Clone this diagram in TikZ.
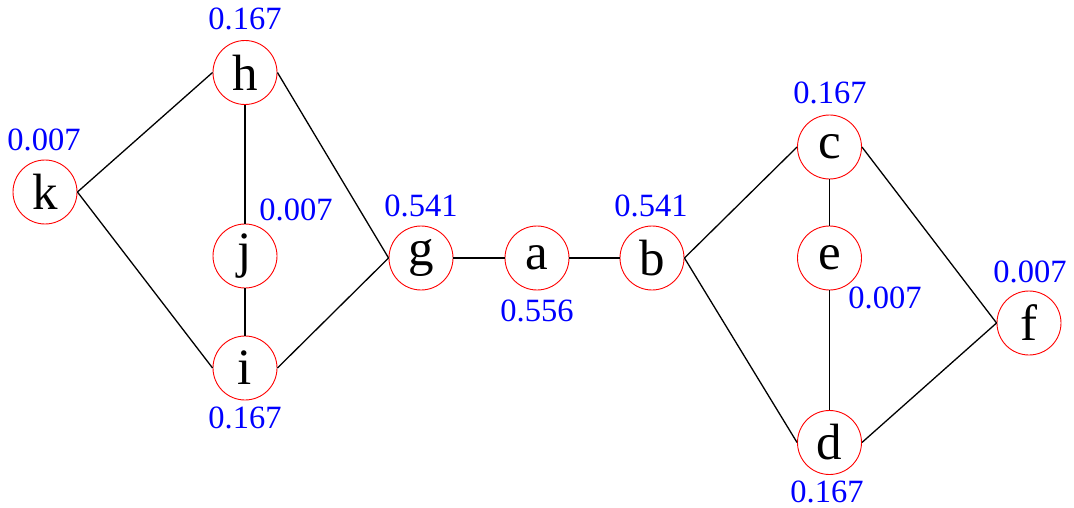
\documentclass[tikz,border=0pt]{standalone}
\usepackage{fontspec}
\setmainfont{Liberation Serif}
\begin{document}
\begin{tikzpicture}[x=1pt,y=-1pt,
  vert/.style={circle,draw=red,line width=0.9pt,minimum size=64pt,inner sep=0pt,font=\fontsize{51}{51}\selectfont},
  lbl/.style={text=blue,inner sep=0pt,font=\fontsize{32.5}{32.5}\selectfont},
  edge/.style={draw=black,line width=1.3pt}]
\useasboundingbox (0,0) rectangle (1074,508);
\node[vert] (h) at (245,72.5) {h};
\node[vert] (k) at (45,192) {k};
\node[vert] (j) at (245,256) {j};
\node[vert] (i) at (245,368) {i};
\node[vert] (g) at (421,258) {g};
\node[vert] (a) at (537,258) {a};
\node[vert] (b) at (652,258) {b};
\node[vert] (c) at (829.5,147) {c};
\node[vert] (e) at (829.5,258) {e};
\node[vert] (d) at (829.5,442.5) {d};
\node[vert] (f) at (1029,323) {f};
\node[lbl] (lh) at (245,19) {0.167};
\node[lbl] (lk) at (44,140) {0.007};
\node[lbl] (lj) at (296,210) {0.007};
\node[lbl] (li) at (245,418) {0.167};
\node[lbl] (lg) at (421,206) {0.541};
\node[lbl] (la) at (537,311) {0.556};
\node[lbl] (lb) at (651,206) {0.541};
\node[lbl] (lc) at (830,93) {0.167};
\node[lbl] (le) at (885,298) {0.007};
\node[lbl] (ld) at (827,492) {0.167};
\node[lbl] (lf) at (1030,272) {0.007};
\draw[edge] (k.east) -- (h.west);
\draw[edge] (k.east) -- (i.west);
\draw[edge] (h.south) -- (j.north);
\draw[edge] (j.south) -- (i.north);
\draw[edge] (h.east) -- (g.west);
\draw[edge] (i.east) -- (g.west);
\draw[edge] (g.east) -- (a.west);
\draw[edge] (a.east) -- (b.west);
\draw[edge] (b.east) -- (c.west);
\draw[edge] (b.east) -- (d.west);
\draw[edge] (c.south) -- (e.north);
\draw[edge] (e.south) -- (d.north);
\draw[edge] (c.east) -- (f.west);
\draw[edge] (d.east) -- (f.west);
\end{tikzpicture}
\end{document}
